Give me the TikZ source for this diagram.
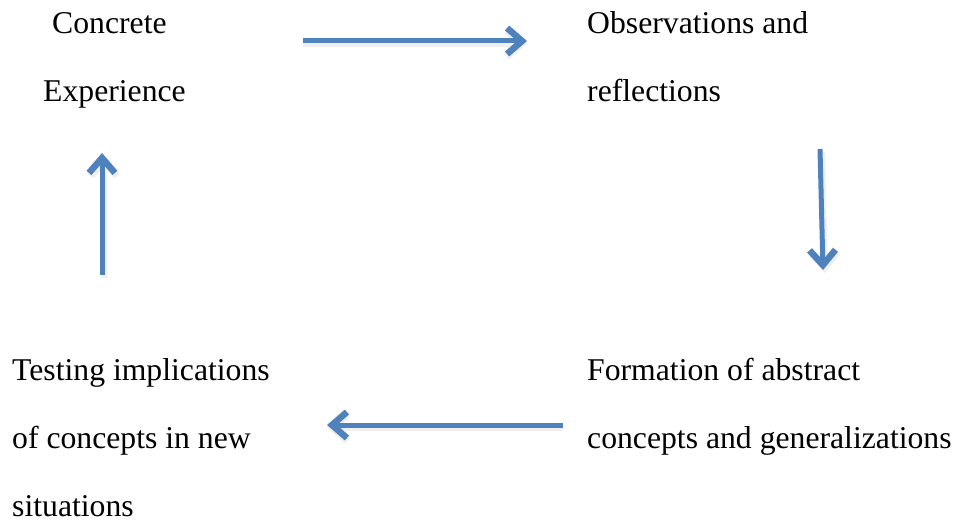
\documentclass[tikz,border=0pt]{standalone}
\usepackage{fontspec}
\setmainfont{Liberation Serif}
\usetikzlibrary{arrows.meta}
\definecolor{arrowblue}{HTML}{4F81BD}
\tikzset{
  lbl/.style={anchor=base west, inner sep=0pt, font=\fontsize{31.7}{38}\selectfont},
  flow/.style={draw=arrowblue, line width=5pt,
    -{Straight Barb[length=15pt, width=26pt, line width=6.5pt]}},
  shade/.style={draw=black!12, line width=6pt, opacity=0.5,
    -{Straight Barb[length=15pt, width=26pt, line width=7pt]}}
}
\begin{document}
\begin{tikzpicture}[x=1pt, y=-1pt]
\useasboundingbox (0,0) rectangle (957,521);
% texts
\node[lbl] (ce1) at (52,34) {Concrete};
\node[lbl] (ce2) at (43,102) {Experience};
\node[lbl] (or1) at (587,34) {Observations and};
\node[lbl] (or2) at (587,102) {reflections};
\node[lbl] (fa1) at (587,380) {Formation of abstract};
\node[lbl] (fa2) at (587,448) {concepts and generalizations};
\node[lbl] (ti1) at (12,380) {Testing implications};
\node[lbl] (ti2) at (12,448) {of concepts in new};
\node[lbl] (ti3) at (12,516) {situations};
% arrow end points
\coordinate (a1s) at (303,41);
\coordinate (a1e) at (527,41);
\coordinate (a2s) at (820,149);
\coordinate (a2e) at (823,270);
\coordinate (a3s) at (563,425);
\coordinate (a3e) at (327,425);
\coordinate (a4s) at (102,275);
\coordinate (a4e) at (102,153);
% soft shadows
\draw[shade] ([yshift=-3pt]a1s) -- ([yshift=-3pt]a1e);
\draw[shade] ([xshift=2pt,yshift=-3pt]a2s) -- ([xshift=2pt,yshift=-3pt]a2e);
\draw[shade] ([yshift=-3pt]a3s) -- ([yshift=-3pt]a3e);
\draw[shade] ([xshift=2pt,yshift=-3pt]a4s) -- ([xshift=2pt,yshift=-3pt]a4e);
% arrows
\draw[flow] (a1s) -- (a1e);
\draw[flow] (a2s) -- (a2e);
\draw[flow] (a3s) -- (a3e);
\draw[flow] (a4s) -- (a4e);
\end{tikzpicture}
\end{document}
